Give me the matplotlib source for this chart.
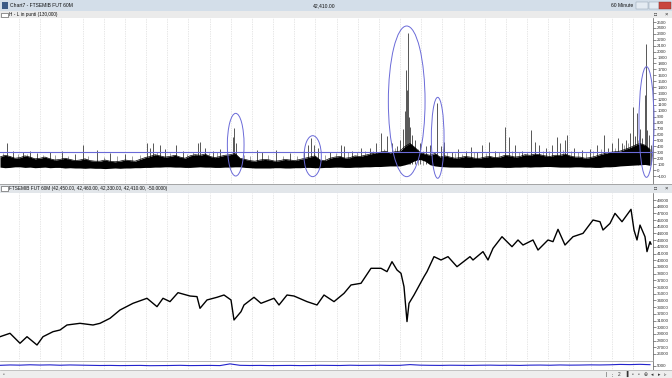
import matplotlib.pyplot as plt
from matplotlib.patches import Ellipse, Rectangle
import numpy as np

plt.rcParams['font.family'] = ['Liberation Sans', 'DejaVu Sans']

# --- dati (posizione barra, valore) ---
# pannello alto: H - L in punti, banda densa (min / max) ogni 5 barre
band_x = list(range(0, 655, 5))
band_lo = [50, 40, 45, 55, 55, 45, 50, 40, 45, 50,
           40, 45, 45, 35, 40, 35, 35, 30, 35, 30,
           30, 25, 30, 35, 30, 35, 35, 40, 40, 45,
           45, 50, 50, 55, 55, 50, 50, 45, 45, 50,
           55, 50, 50, 45, 45, 50, 50, 55, 55, 45,
           40, 35, 35, 35, 35, 40, 40, 35, 35, 40,
           40, 45, 45, 40, 40, 45, 45, 50, 50, 45,
           45, 50, 50, 55, 55, 60, 60, 65, 70, 70,
           70, 90, 120, 160, 180, 150, 90, 70, 60, 55,
           50, 50, 50, 45, 45, 50, 50, 45, 45, 50,
           50, 45, 45, 50, 50, 55, 50, 55, 55, 60,
           60, 55, 50, 50, 50, 55, 55, 50, 50, 45,
           45, 55, 55, 60, 70, 75, 80, 85, 90, 95,
           80]
band_hi = [220, 250, 230, 200, 210, 240, 220, 190, 200, 220,
           190, 170, 180, 200, 180, 160, 170, 190, 160, 150,
           150, 170, 150, 140, 150, 170, 160, 150, 180, 210,
           230, 260, 240, 220, 230, 250, 220, 200, 240, 260,
           250, 270, 230, 210, 230, 250, 260, 280, 200, 180,
           160, 150, 170, 180, 170, 150, 160, 180, 170, 160,
           180, 200, 220, 240, 170, 160, 200, 220, 230, 200,
           210, 240, 230, 250, 270, 290, 300, 320, 290, 310,
           320, 400, 450, 380, 300, 270, 250, 280, 220, 240,
           220, 200, 210, 230, 220, 200, 200, 220, 230, 210,
           220, 250, 240, 220, 230, 260, 250, 270, 260, 240,
           230, 250, 250, 270, 240, 220, 220, 200, 210, 230,
           260, 280, 300, 310, 320, 350, 380, 420, 450, 420,
           350]

# picchi singoli sopra la banda
spike_x = [7, 13, 23, 30, 37, 50, 62, 75, 83, 97, 110, 125, 147, 150, 153, 160, 165, 176, 183, 198,
           200, 205, 213, 220, 233, 234, 236, 257, 262, 276, 290, 304, 308, 311, 314, 318, 330, 341, 344, 352,
           361, 370, 376, 381, 387, 392, 397, 400, 403, 405, 406, 407, 408, 409, 410, 412, 415, 420, 426, 430,
           437, 441, 444, 452, 458, 466, 471, 477, 482, 489, 495, 505, 509, 515, 522, 531, 535, 539, 546, 552,
           557, 560, 565, 567, 574, 582, 590, 597, 604, 608, 612, 618, 622, 626, 630, 633, 635, 637, 640, 642,
           645, 646, 647, 649, 651]
spike_v = [450, 330, 300, 320, 290, 310, 330, 280, 420, 340, 290, 270, 450, 380, 460, 430, 350, 420, 320, 460,
           470, 380, 330, 360, 560, 706, 450, 340, 300, 340, 290, 330, 420, 540, 430, 380, 300, 420, 400, 320,
           380, 370, 450, 620, 580, 450, 400, 500, 700, 1000, 1690, 1350, 2309, 900, 730, 600, 500, 450, 400, 420,
           1130, 400, 480, 300, 355, 320, 395, 300, 423, 480, 320, 733, 564, 420, 330, 677, 480, 423, 380, 423,
           564, 450, 508, 592, 380, 340, 350, 420, 592, 380, 452, 536, 450, 500, 620, 1070, 580, 958, 700, 540,
           1268, 2129, 677, 600, 420]

# picchi minori (trama grigia vicino alla linea dei 300)
small_x = [3, 18, 27, 43, 55, 68, 88, 104, 117, 132, 140, 157, 170, 187, 193, 209, 217, 227, 244, 250,
           268, 283, 297, 325, 336, 348, 357, 365, 373, 384, 395, 418, 423, 447, 455, 462, 474, 486, 499, 512,
           519, 527, 543, 549, 563, 571, 578, 586, 593, 601, 615, 624, 628, 638]
small_v = [290, 270, 280, 250, 260, 240, 230, 220, 230, 240, 260, 300, 290, 280, 300, 290, 310, 300, 260, 240,
           250, 230, 240, 260, 290, 300, 310, 320, 330, 360, 380, 350, 330, 300, 290, 280, 300, 290, 300, 320,
           310, 300, 330, 320, 340, 330, 300, 290, 320, 350, 380, 420, 450, 500]

hl_level = 300

# cerchi disegnati a mano sul pannello alto: centro x, centro y, larghezza, altezza
circ_x = [235.7, 312.7, 406.7, 437.7, 646.5]
circ_y = [429, 235, 1161, 545, 812]
circ_w = [16.7, 17.3, 36.7, 12.7, 15]
circ_h = [1058, 692, 2544, 1367, 1869]

# pannello basso: FTSEMIB FUT 60M
price_x = [0, 10, 20, 27, 37, 43, 53, 60, 67, 80, 93, 100, 110, 120, 133, 147, 157, 163, 170, 178,
           190, 197, 200, 207, 217, 224, 231, 234, 241, 244, 254, 261, 274, 279, 287, 294, 307, 317, 324, 334,
           344, 351, 361, 371, 381, 387, 392, 397, 401, 404, 407, 409, 414, 424, 427, 434, 441, 448, 457, 470,
           473, 483, 488, 493, 502, 512, 518, 523, 533, 538, 548, 553, 558, 565, 573, 583, 593, 600, 603, 610,
           615, 622, 631, 634, 637, 640, 645, 647, 650, 651]
price = [28580, 29090, 27600, 28580, 27340, 28580, 29330, 29580, 30330, 30580, 30330, 30580, 31330, 32570, 33570, 34320, 33070, 34320, 33820, 35160,
         34660, 34570, 32820, 34070, 34470, 34810, 34070, 31080, 32320, 33320, 34470, 33570, 34320, 33320, 34810, 34660, 33820, 33320, 34810, 33820,
         35060, 36310, 36560, 38800, 38800, 38300, 39790, 38550, 38050, 36050, 30840, 33570, 34810, 37550, 38300, 40540, 40040, 40540, 39040, 40540,
         40040, 41290, 40040, 41780, 43520, 42030, 43030, 42280, 43030, 41530, 43030, 42780, 44620, 42280, 43520, 44020, 46010, 45760, 44520, 45510,
         47010, 45760, 47610, 44520, 43030, 45260, 43520, 41290, 42780, 42410]

# volumi (striscia in fondo), ogni 10 barre
vol_x = list(range(0, 660, 10))
vol = [5200, 5600, 5400, 5800, 5500, 5700, 5300, 5600, 5400, 5200,
       5000, 5100, 4900, 5000, 5100, 4800, 4900, 5000, 5200, 4900,
       5000, 5100, 4900, 6800, 5200, 5000, 5100, 4900, 5000, 5100,
       4900, 5000, 5200, 5100, 5000, 5300, 5100, 5200, 5300, 5100,
       5200, 6000, 5400, 5200, 5100, 5300, 5200, 5100, 5300, 5400,
       5200, 5300, 5100, 5400, 5500, 5300, 5600, 5400, 5500, 5700,
       5600, 5800, 6200, 6000, 6300, 5900]

top_ticks = list(range(-100, 2600, 100))
bot_ticks = list(range(26000, 50000, 1000))

W, H = 672, 378
grid_x = [19 + 21.17 * k for k in range(30)]
xmax = 653

fig = plt.figure(figsize=(W / 100, H / 100), dpi=100)
fig.patch.set_facecolor('white')


def box(y0, y1, x0=0, x1=W):
    return fig.add_axes([x0 / W, 1 - y1 / H, (x1 - x0) / W, (y1 - y0) / H])


def bar(y0, y1, color):
    a = box(y0, y1)
    a.set_facecolor(color)
    a.set_xlim(0, W)
    a.set_ylim(0, 1)
    a.set_xticks([])
    a.set_yticks([])
    for s in a.spines.values():
        s.set_visible(False)
    return a


def style_plot(a):
    a.set_facecolor('white')
    a.set_xlim(0, xmax)
    a.set_xticks([])
    for s in ['left', 'top', 'bottom']:
        a.spines[s].set_visible(False)
    a.spines['right'].set_color('#555555')
    a.spines['right'].set_linewidth(0.5)
    a.yaxis.tick_right()
    a.tick_params(axis='y', length=2, width=0.4, pad=1, labelsize=3.2, colors='#333333')
    for gx in grid_x:
        a.axvline(gx, color='#cfcfcf', lw=0.5, ls=(0, (1, 1.5)), zorder=0)


# barra del titolo
tb = bar(0, 11, '#d3dee9')
tb.add_patch(Rectangle((2, 0.2), 6, 0.6, fc='#3a5a86', ec='none'))
tb.text(10, 0.5, 'Chart7 - FTSEMIB FUT 60M', fontsize=3.6, va='center', color='#111111')
tb.text(313, 0.5, '42,410.00', fontsize=3.6, va='center', color='#111111')
tb.text(611, 0.5, '60 Minute', fontsize=3.6, va='center', color='#111111')
tb.add_patch(Rectangle((636, 0.15), 12, 0.65, fc='#e4ebf2', ec='#8899aa', lw=0.3))
tb.add_patch(Rectangle((649, 0.15), 10, 0.65, fc='#e4ebf2', ec='#8899aa', lw=0.3))
tb.add_patch(Rectangle((659, 0.15), 12, 0.65, fc='#c9463d', ec='#8a2a24', lw=0.3))

# intestazione pannello alto
h1 = bar(11, 18, '#ebebeb')
h1.axhline(0.02, color='#9a9a9a', lw=0.6)
h1.add_patch(Rectangle((1, 0.15), 7, 0.6, fc='white', ec='#444444', lw=0.4))
h1.text(9, 0.5, 'H - L in punti (130,000)', fontsize=3.4, va='center', color='#111111')
h1.text(656, 0.5, '\u25a1', fontsize=3.6, va='center', ha='center', color='#222222')
h1.text(666, 0.5, '\u00d7', fontsize=4.2, va='center', ha='center', color='#222222')

# pannello alto
ax1 = box(18, 184, 0, xmax)
style_plot(ax1)
ax1.set_ylim(-235, 2568)
ax1.set_yticks(top_ticks)
ax1.vlines(small_x, 80, small_v, color='#7a7a7a', lw=0.5, zorder=2)
ax1.vlines(spike_x, 100, spike_v, color='#3c3c3c', lw=0.6, zorder=2)
ax1.fill_between(band_x, band_lo, band_hi, color='black', lw=0, zorder=3)
ax1.plot(band_x, band_hi, color='black', lw=0.5, zorder=3)
ax1.axhline(hl_level, color='#6a6ad8', lw=0.8, zorder=4)
for cx, cy, cw, ch in zip(circ_x, circ_y, circ_w, circ_h):
    ax1.add_patch(Ellipse((cx, cy), cw, ch, fill=False, ec='#6a6ad8', lw=0.7,
                          zorder=5, clip_on=False))

# intestazione pannello basso
h2 = bar(184, 193, '#e2e6ea')
h2.axhline(0.95, color='#9a9a9a', lw=0.6)
h2.axhline(0.05, color='#9a9a9a', lw=0.6)
h2.add_patch(Rectangle((1, 0.2), 7, 0.55, fc='white', ec='#444444', lw=0.4))
h2.text(9, 0.5, 'FTSEMIB FUT 60M (42,450.00, 42,460.00, 42,330.00, 42,410.00, -50.0000)',
        fontsize=3.4, va='center', color='#111111')
h2.text(656, 0.5, '\u25a1', fontsize=3.6, va='center', ha='center', color='#222222')
h2.text(666, 0.5, '\u00d7', fontsize=4.2, va='center', ha='center', color='#222222')

# pannello basso (prezzo)
ax2 = box(193, 360, 0, xmax)
style_plot(ax2)
ax2.set_ylim(25100, 50050)
ax2.set_yticks(bot_ticks)
ax2.plot(price_x, price, color='black', lw=1.0, zorder=3)

# striscia volumi
ax3 = box(361, 370, 0, xmax)
style_plot(ax3)
ax3.spines['top'].set_visible(True)
ax3.spines['top'].set_color('#9a9a9a')
ax3.spines['top'].set_linewidth(0.5)
ax3.set_ylim(0, 10000)
ax3.set_yticks([5000])
ax3.plot(vol_x, vol, color='#2222cc', lw=0.8)

# barra di scorrimento
sb = bar(370, 378, '#eeeeee')
sb.axhline(0.98, color='#b0b0b0', lw=0.5)
sb.text(3, 0.45, '\u25ab', fontsize=3.5, va='center', color='#555555')
for i, g in enumerate(['|', '\u2236', '2', '\u2590', '\u25ab', '\u25ab', '\u2295', '\u25c2', '\u25b8', '\u25b9']):
    sb.text(606 + i * 6.6, 0.45, g, fontsize=3.5, va='center', ha='center', color='#333333')

fig.savefig('out.png', dpi=100, facecolor=fig.get_facecolor())
